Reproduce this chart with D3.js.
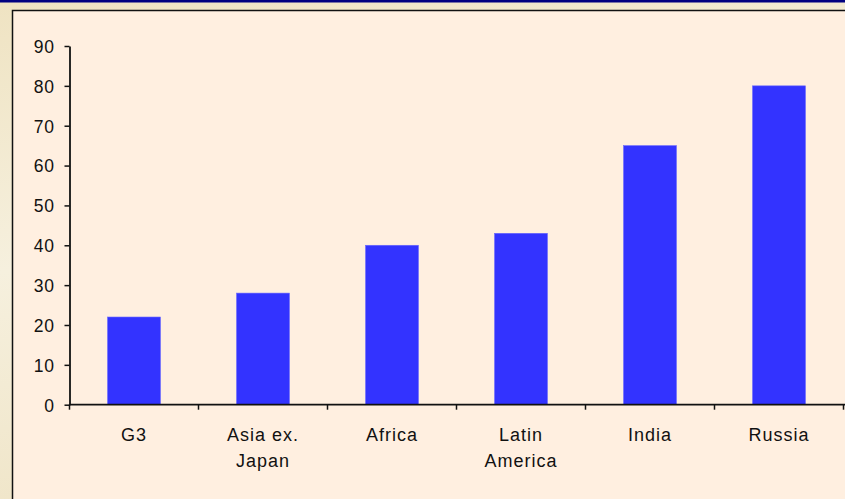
<!DOCTYPE html>
<html>
<head>
<meta charset="utf-8">
<script src="https://cdn.jsdelivr.net/npm/d3@7"></script>
<style>
html,body{margin:0;padding:0;background:#F2E8CE;}
svg{display:block;}
text{font-family:"Liberation Sans",Arial,sans-serif;fill:#111;}
</style>
</head>
<body>
<svg id="chart" width="845" height="499"></svg>
<script>
const categories = [["G3"], ["Asia ex.", "Japan"], ["Africa"], ["Latin", "America"], ["India"], ["Russia"]];
const values = [22, 28, 40, 43, 65, 80];
const yTicks = [0, 10, 20, 30, 40, 50, 60, 70, 80, 90];

const W = 845, H = 499;
const svg = d3.select("#chart");

// outer background
const defs = svg.append("defs");
const g1 = defs.append("linearGradient").attr("id","bg").attr("x1","0").attr("y1","0").attr("x2","0.3").attr("y2","1");
g1.append("stop").attr("offset","0").attr("stop-color","#EFE3C2");
g1.append("stop").attr("offset","0.5").attr("stop-color","#F6F0DE");
g1.append("stop").attr("offset","1").attr("stop-color","#EFE4C6");
svg.append("rect").attr("width",W).attr("height",H).attr("fill","url(#bg)");
svg.append("rect").attr("x",0).attr("y",0).attr("width",W).attr("height",2.5).attr("fill","#000080");

// plot panel
svg.append("rect").attr("x",12.5).attr("y",10.5).attr("width",W).attr("height",H)
  .attr("fill","#FFEFE0").attr("stroke","#111").attr("stroke-width",1.5);

const keys = categories.map(c => c.join(" "));
const x = d3.scaleBand().domain(keys).range([69.5, 843.5]).paddingInner(0.59).paddingOuter(0.295);
const y = d3.scaleLinear().domain([0, 90]).range([404.7, 46]);

// bars
svg.append("g").selectAll("rect").data(values).join("rect")
  .attr("x", (d,i) => x(keys[i]))
  .attr("y", d => y(d))
  .attr("width", x.bandwidth())
  .attr("height", d => y(0) - y(d))
  .attr("fill", "#3333FF")
  .attr("stroke", "#6666FF").attr("stroke-width", 0.6);

// y axis
const yAxis = d3.axisLeft(y).tickValues(yTicks).tickSize(5).tickPadding(10).tickSizeOuter(0);
const ya = svg.append("g").attr("transform","translate(69.5,0)").call(yAxis);
ya.attr("font-size", null).attr("font-family", null);
ya.select(".domain").attr("stroke","#111").attr("stroke-width",1.8);
ya.selectAll(".tick line").attr("stroke","#111").attr("stroke-width",1.5);
ya.selectAll(".tick text").style("font-size","17.5px").style("letter-spacing","0.6px")
  .style("font-family","Liberation Sans, Arial, sans-serif").attr("fill","#111").attr("dy","0.36em");

// x axis line and boundary ticks
const step = x.step();
const x0 = 69.5;
svg.append("line").attr("x1", x0).attr("x2", W).attr("y1", y(0)).attr("y2", y(0))
  .attr("stroke","#111").attr("stroke-width",1.8);
const bounds = d3.range(keys.length + 1).map(i => x0 + i * step);
svg.append("g").selectAll("line").data(bounds).join("line")
  .attr("x1", d => d).attr("x2", d => d)
  .attr("y1", y(0)).attr("y2", y(0) + 5)
  .attr("stroke","#111").attr("stroke-width",1.5);

// category labels
const lbl = svg.append("g").selectAll("text").data(categories).join("text")
  .attr("text-anchor","middle")
  .style("font-size","18px")
  .style("letter-spacing","1px")
  .attr("transform", (d,i) => `translate(${x(keys[i]) + x.bandwidth()/2},441)`);
lbl.selectAll("tspan").data(d => d).join("tspan")
  .attr("x",0).attr("dy",(d,i) => i === 0 ? 0 : 26).text(d => d);
</script>
</body>
</html>
